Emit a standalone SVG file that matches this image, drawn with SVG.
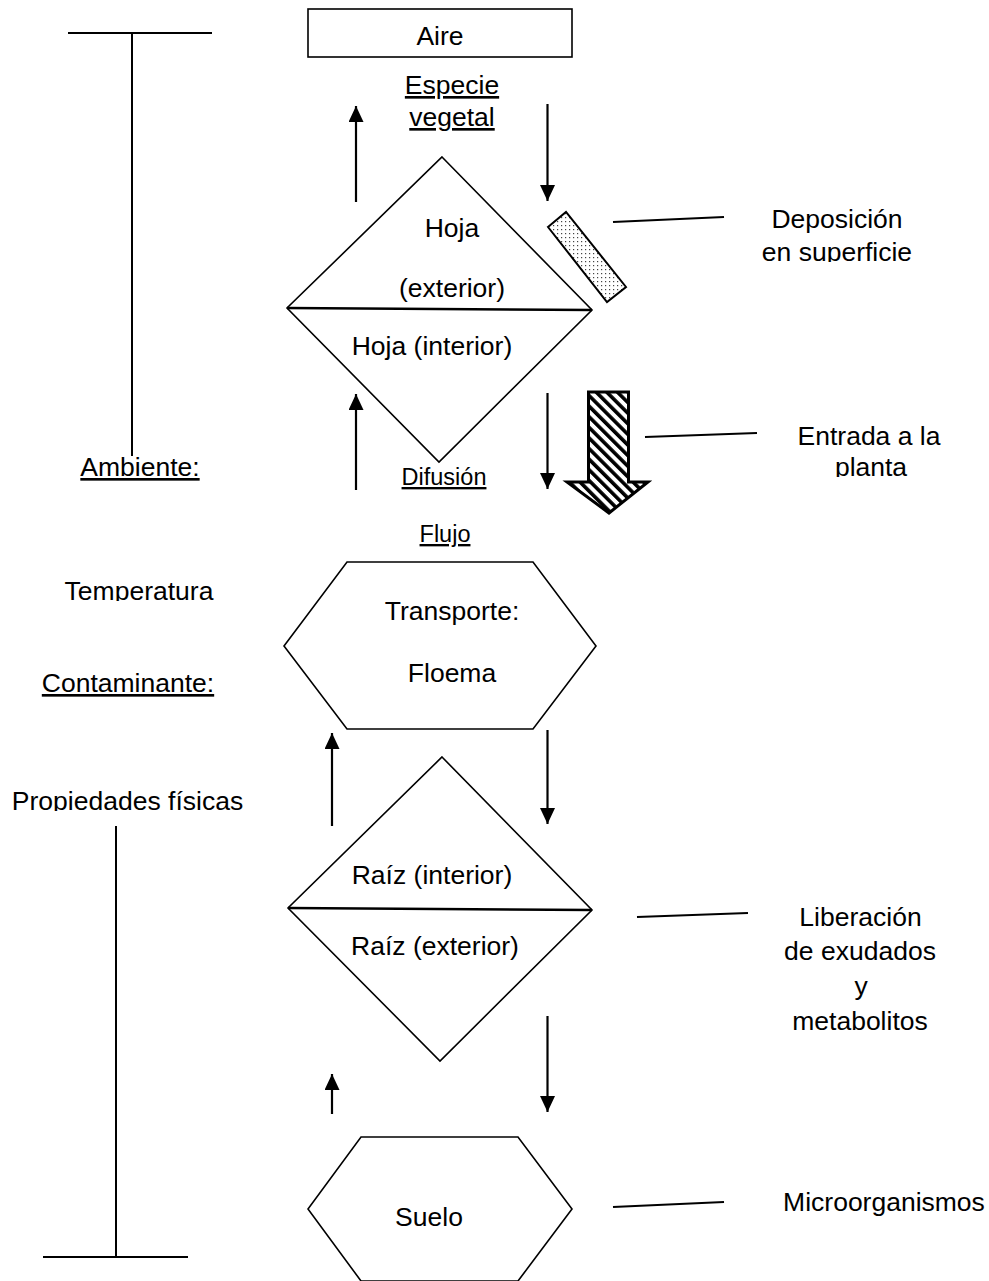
<svg xmlns="http://www.w3.org/2000/svg" width="989" height="1281" viewBox="0 0 989 1281">
<style>
text{font-family:"Liberation Sans",Arial,sans-serif;font-size:26.5px;fill:#000}
.c{text-anchor:middle}
.u{text-decoration:underline}
.sm{font-size:23.5px}
.shape{fill:#fff;stroke:#000;stroke-width:1.6}
.ln{stroke:#000;stroke-width:2;fill:none}
.div{stroke:#000;stroke-width:2.4}
.arr{stroke:#000;stroke-width:2.2;fill:none;marker-end:url(#ah)}
</style>
<defs>
<marker id="ah" markerUnits="userSpaceOnUse" markerWidth="16" markerHeight="15" refX="16" refY="7.5" orient="auto">
<path d="M0,0 L16,7.5 L0,15 z" fill="#000"/>
</marker>
<pattern id="hatch" patternUnits="userSpaceOnUse" width="7.5" height="7.5" patternTransform="rotate(-45)">
<rect width="7.5" height="7.5" fill="#fff"/>
<rect x="0" y="0" width="3.6" height="7.5" fill="#000"/>
</pattern>
<pattern id="dots" patternUnits="userSpaceOnUse" width="4" height="4">
<rect width="4" height="4" fill="#fff"/>
<rect x="1" y="1" width="1.2" height="1.2" fill="#444"/>
</pattern>
<clipPath id="clipTemp"><rect x="0" y="560" width="260" height="41"/></clipPath>
<clipPath id="clipProp"><rect x="0" y="770" width="260" height="41"/></clipPath>
<clipPath id="clipSup"><rect x="740" y="230" width="200" height="32"/></clipPath>
<clipPath id="clipPlanta"><rect x="800" y="450" width="150" height="27"/></clipPath>
</defs>

<g id="connectors">
<line class="arr" x1="356" y1="202" x2="356" y2="106"/>
<line class="arr" x1="547.5" y1="104" x2="547.5" y2="201"/>
<line class="arr" x1="356" y1="490" x2="356" y2="394"/>
<line class="arr" x1="547.5" y1="393" x2="547.5" y2="489"/>
<line class="arr" x1="332" y1="826" x2="332" y2="733"/>
<line class="arr" x1="547.5" y1="730" x2="547.5" y2="824"/>
<line class="arr" x1="332" y1="1114" x2="332" y2="1074"/>
<line class="arr" x1="547.5" y1="1016" x2="547.5" y2="1112"/>
<line class="ln" x1="613" y1="222" x2="724" y2="217"/>
<line class="ln" x1="645" y1="437" x2="757" y2="433"/>
<line class="ln" x1="637" y1="917" x2="748" y2="913"/>
<line class="ln" x1="613" y1="1207" x2="724" y2="1202"/>
</g>

<g id="ambiente-bar">
<line class="ln" x1="68" y1="33" x2="212" y2="33"/>
<line class="ln" x1="132" y1="33" x2="132" y2="456"/>
<text x="140" y="476" class="c u">Ambiente:</text>
<text x="139" y="600" class="c" clip-path="url(#clipTemp)">Temperatura</text>
</g>

<g id="contaminante-bar">
<text x="128" y="692" class="c u">Contaminante:</text>
<text x="127.5" y="809.5" class="c" clip-path="url(#clipProp)">Propiedades físicas</text>
<line class="ln" x1="116" y1="826" x2="116" y2="1257"/>
<line class="ln" x1="43" y1="1257" x2="188" y2="1257"/>
</g>

<g id="aire">
<rect class="shape" x="308" y="9" width="264" height="48"/>
<text x="440" y="45" class="c">Aire</text>
</g>

<g id="especie">
<text x="452" y="94" class="c u">Especie</text>
<text x="452" y="126" class="c u">vegetal</text>
</g>

<g id="hoja">
<polygon class="shape" points="442,157 592,310 439,462 287,308"/>
<line class="div" x1="287" y1="308" x2="592" y2="310"/>
<text x="452" y="237" class="c">Hoja</text>
<text x="452" y="297" class="c">(exterior)</text>
<text x="432" y="355" class="c">Hoja (interior)</text>
</g>

<g id="deposicion-rect">
<polygon points="548,227 566,212 626,287 607,302" fill="url(#dots)" stroke="#000" stroke-width="2"/>
</g>

<g id="deposicion-label">
<text x="837" y="228" class="c">Deposición</text>
<text x="837" y="261" class="c" clip-path="url(#clipSup)">en superficie</text>
</g>

<g id="entrada-arrow">
<polygon points="588.5,392 628.5,392 628.5,482 648,482 609,513 567,482 588.5,482" fill="url(#hatch)" stroke="#000" stroke-width="3" stroke-linejoin="miter"/>
</g>

<g id="entrada-label">
<text x="869" y="445" class="c">Entrada a la</text>
<text x="871" y="476" class="c" clip-path="url(#clipPlanta)">planta</text>
</g>

<g id="difusion">
<text x="444" y="485" class="c sm u">Difusión</text>
<text x="445" y="542" class="c sm u">Flujo</text>
</g>

<g id="transporte">
<polygon class="shape" points="347,562 533,562 596,646 533,729 347,729 284,646"/>
<text x="452" y="620" class="c">Transporte:</text>
<text x="452" y="682" class="c">Floema</text>
</g>

<g id="raiz">
<polygon class="shape" points="442,757 592,910 440,1061 288,908"/>
<line class="div" x1="288" y1="908" x2="592" y2="910"/>
<text x="432" y="884" class="c">Raíz (interior)</text>
<text x="435" y="955" class="c">Raíz (exterior)</text>
</g>

<g id="liberacion-label">
<text x="860.5" y="926" class="c">Liberación</text>
<text x="860" y="960" class="c">de exudados</text>
<text x="861" y="995" class="c">y</text>
<text x="860" y="1030" class="c">metabolitos</text>
</g>

<g id="suelo">
<polygon class="shape" points="361,1137 518,1137 572,1209 518,1281 361,1281 308,1209"/>
<text x="429" y="1226" class="c">Suelo</text>
</g>

<g id="microorganismos-label">
<text x="884" y="1211" class="c">Microorganismos</text>
</g>
</svg>
